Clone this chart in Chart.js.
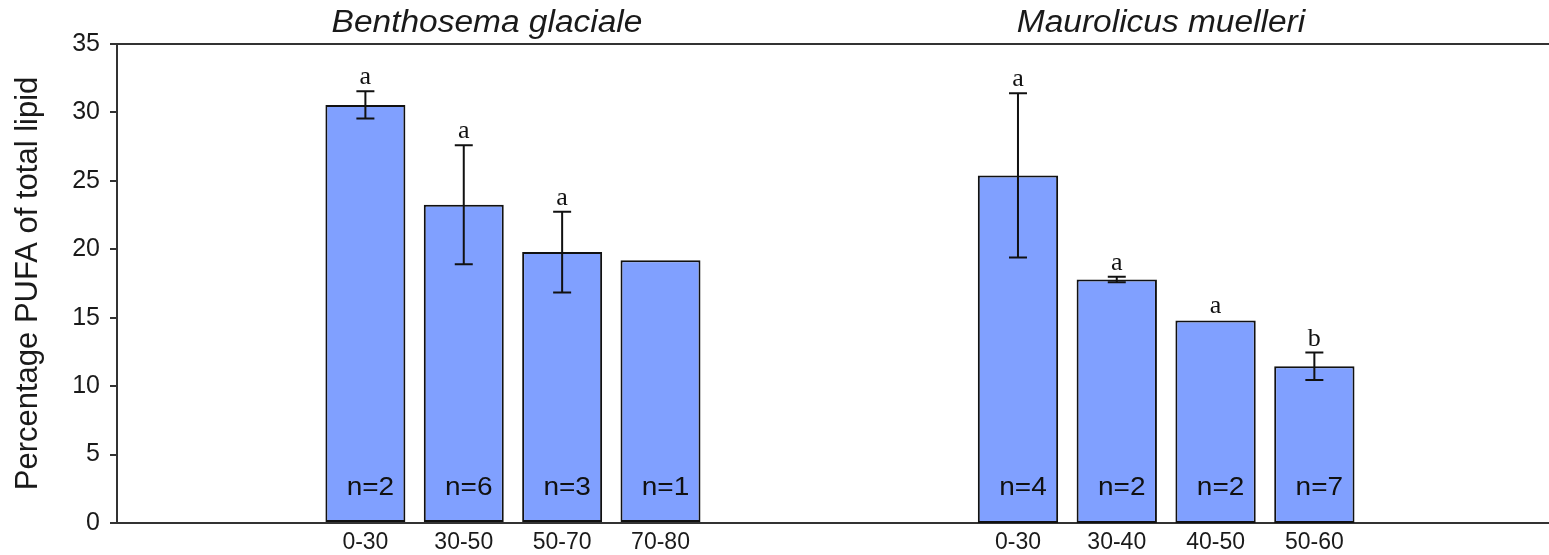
<!DOCTYPE html>
<html>
<head>
<meta charset="utf-8">
<script src="https://cdn.jsdelivr.net/npm/chart.js@4/dist/chart.umd.min.js"></script>
<style>
  html, body { margin: 0; padding: 0; background: #fff; }
  #wrap { position: relative; width: 1549px; height: 555px; overflow: hidden; }
  #left { position: absolute; left: 0; top: 0; }
  #right { position: absolute; left: 770px; top: 0; }
</style>
</head>
<body>
<div id="wrap">
  <canvas id="left" width="770" height="555"></canvas>
  <canvas id="right" width="779" height="555"></canvas>
</div>
<script>
// Benthosema glaciale: PUFA (% of total lipid) by depth stratum (m)
const bgDepths  = ['0-30', '30-50', '50-70', '70-80'];
const bgMeans   = [30.55, 23.25, 19.8, 19.2];
const bgErrors  = [1.0, 4.35, 2.95, null];
const bgLetters = ['a', 'a', 'a', ''];
const bgN       = [2, 6, 3, 1];

// Maurolicus muelleri: PUFA (% of total lipid) by depth stratum (m)
const mmDepths  = ['0-30', '30-40', '40-50', '50-60'];
const mmMeans   = [25.4, 17.8, 14.8, 11.45];
const mmErrors  = [6.0, 0.2, null, 1.0];
const mmLetters = ['a', 'a', 'a', 'b'];
const mmN       = [4, 2, 2, 7];

// Shared value axis
const yMin = 0, yMax = 35, yStep = 5;
const yTitle = 'Percentage PUFA of total lipid';

const SANS = '"Liberation Sans", Arial, Helvetica, sans-serif';
const SERIF = '"Liberation Serif", "Times New Roman", Times, serif';
const INK = '#1a1a1a';
const AXIS = '#333333';
const BAR_FILL = 'rgb(128,160,255)';

// Draws the panel title, top frame line, error bars, significance letters and sample sizes
const annotate = {
  id: 'annotate',
  afterDatasetsDraw(chart, args, opts) {
    const ctx = chart.ctx;
    const area = chart.chartArea;
    const ys = chart.scales.y;
    const meta = chart.getDatasetMeta(0);
    ctx.save();

    // frame line along the top of the plot
    ctx.strokeStyle = AXIS;
    ctx.lineWidth = 2;
    ctx.beginPath();
    ctx.moveTo(area.left, area.top);
    ctx.lineTo(area.right, area.top);
    ctx.stroke();

    // panel title (species name)
    ctx.fillStyle = INK;
    ctx.font = 'italic 31px ' + SANS;
    ctx.textAlign = 'center';
    ctx.textBaseline = 'alphabetic';
    ctx.save();
    ctx.translate(opts.titleX, 32);
    ctx.scale(1.08, 1);
    ctx.fillText(opts.title, 0, 0);
    ctx.restore();

    meta.data.forEach((bar, i) => {
      const mean = opts.means[i];
      const err = opts.errors[i];
      let topY = ys.getPixelForValue(mean);
      if (err != null) {
        const yHi = ys.getPixelForValue(mean + err);
        const yLo = ys.getPixelForValue(mean - err);
        const cap = 9;
        ctx.strokeStyle = '#111';
        ctx.lineWidth = 2;
        ctx.beginPath();
        ctx.moveTo(bar.x, yHi); ctx.lineTo(bar.x, yLo);
        ctx.moveTo(bar.x - cap, yHi); ctx.lineTo(bar.x + cap, yHi);
        ctx.moveTo(bar.x - cap, yLo); ctx.lineTo(bar.x + cap, yLo);
        ctx.stroke();
        topY = Math.min(topY, yHi);
      }
      const letter = opts.letters[i];
      if (letter) {
        ctx.fillStyle = '#111';
        ctx.font = '26px ' + SERIF;
        ctx.textAlign = 'center';
        ctx.textBaseline = 'alphabetic';
        ctx.fillText(letter, bar.x, topY - 7);
      }
      // sample size inside the bar
      ctx.fillStyle = '#111';
      ctx.font = '25px ' + SANS;
      ctx.textAlign = 'center';
      ctx.textBaseline = 'alphabetic';
      ctx.save();
      ctx.translate(bar.x + 5, ys.getPixelForValue(0) - 28);
      ctx.scale(1.12, 1);
      ctx.fillText('n=' + opts.n[i], 0, 0);
      ctx.restore();
    });
    ctx.restore();
  }
};

function panel(canvasId, cfg) {
  const points = cfg.means.map((v, i) => ({ x: i, y: v }));
  return new Chart(document.getElementById(canvasId), {
    type: 'bar',
    data: {
      datasets: [{
        data: points,
        backgroundColor: BAR_FILL,
        borderColor: '#111',
        borderWidth: 2,
        borderSkipped: false,
        categoryPercentage: 1,
        barPercentage: 0.813
      }]
    },
    options: {
      responsive: false,
      animation: false,
      events: [],
      layout: { padding: { top: 44, left: 0, right: 0, bottom: 0 } },
      plugins: {
        legend: { display: false },
        tooltip: { enabled: false },
        annotate: cfg.annotate
      },
      scales: {
        x: {
          type: 'linear',
          min: cfg.xMin,
          max: cfg.xMax,
          offset: false,
          grid: { display: false, drawTicks: false },
          border: { display: true, color: AXIS, width: 2 },
          afterBuildTicks: s => { s.ticks = cfg.labels.map((_, i) => ({ value: i })); },
          afterFit: s => { s.height = 32; },
          ticks: {
            autoSkip: false,
            maxRotation: 0,
            padding: 6,
            color: INK,
            font: { family: SANS, size: 23 },
            callback: v => cfg.labels[v] ?? ''
          }
        },
        y: {
          display: cfg.showY,
          min: yMin,
          max: yMax,
          afterFit: s => { s.width = cfg.showY ? 117 : 0; },
          grid: { display: true, drawOnChartArea: false, drawTicks: true, tickLength: 7, color: AXIS, lineWidth: 2 },
          border: { display: true, color: AXIS, width: 2 },
          ticks: {
            stepSize: yStep,
            padding: 10,
            color: INK,
            font: { family: SANS, size: 25 }
          },
          title: {
            display: true,
            text: yTitle,
            color: INK,
            padding: { top: 10, bottom: 0 },
            font: { family: SANS, size: 31 }
          }
        }
      }
    },
    plugins: [annotate]
  });
}

panel('left', {
  labels: bgDepths,
  means: bgMeans,
  xMin: -2.525,
  xMax: 4.113,
  showY: true,
  annotate: { title: 'Benthosema glaciale', titleX: 487, means: bgMeans, errors: bgErrors, letters: bgLetters, n: bgN }
});

panel('right', {
  labels: mmDepths,
  means: mmMeans,
  xMin: -2.51,
  xMax: 5.375,
  showY: false,
  annotate: { title: 'Maurolicus muelleri', titleX: 391, means: mmMeans, errors: mmErrors, letters: mmLetters, n: mmN }
});
</script>
</body>
</html>
